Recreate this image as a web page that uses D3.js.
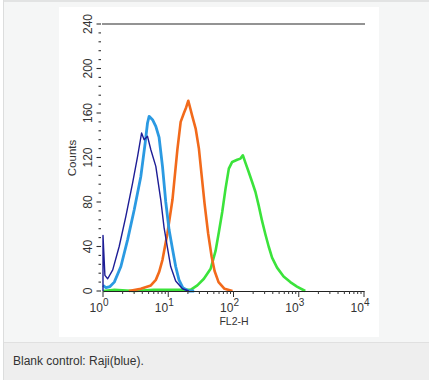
<!DOCTYPE html>
<html>
<head>
<meta charset="utf-8">
<script src="https://cdn.jsdelivr.net/npm/d3@7"></script>
<style>
  html, body { margin: 0; padding: 0; background: #f5f6f6; }
  svg { display: block; font-family: "Liberation Sans", Arial, sans-serif; }
</style>
</head>
<body>
<svg id="chart" width="429" height="380"></svg>
<script>
// ---- Data (FL2-H intensity, event counts) ----
const navyFL2    = [1.0, 1.0, 1.07, 1.18, 1.41, 1.77, 2.24, 2.84, 3.39, 3.90, 4.27, 4.81, 5.41, 6.45, 7.68, 8.63, 9.72, 10.9, 13.0, 16.5, 20.6];
const navyCounts = [0, 50, 14, 11, 19, 40, 67, 97, 121, 142, 136, 139, 127, 112, 82, 57, 39, 22, 9, 2, 0];

const blueFL2    = [1.0, 1.11, 1.28, 1.49, 1.88, 2.38, 3.01, 3.80, 4.43, 4.81, 5.09, 5.74, 6.45, 7.24, 8.16, 9.16, 10.3, 11.6, 13.0, 14.6, 16.7, 20.6, 25.0];
const blueCounts = [5, 3, 4, 8, 22, 46, 73, 103, 133, 151, 157, 154, 148, 138, 112, 80, 55, 38, 22, 10, 3, 0, 0];

const orangeFL2    = [2.49, 3.80, 5.41, 6.45, 7.24, 8.16, 9.72, 11.6, 13.8, 15.5, 17.4, 18.8, 20.3, 23.4, 26.3, 29.5, 32.5, 36.1, 40.8, 46.2, 51.3, 59.0, 72.9, 96.5];
const orangeCounts = [0, 2, 5, 10, 17, 28, 52, 82, 127, 152, 160, 165, 171, 157, 146, 128, 104, 78, 52, 31, 18, 8, 2, 0];

const greenFL2    = [1.0, 1.5, 3.0, 6.0, 12.0, 22.0, 27.9, 35.2, 44.6, 53.1, 59.7, 67.2, 75.5, 84.8, 95.5, 114, 128, 139, 153, 171, 193, 217, 243, 274, 308, 346, 390, 465, 586, 742, 939, 1257];
const greenCounts = [0, 1, 0, 1, 1, 1, 5, 11, 20, 36, 53, 71, 92, 110, 116, 118, 119, 122, 115, 107, 98, 89, 77, 63, 51, 40, 30, 21, 13, 8, 4, 0];

const xTickExponents = [0, 1, 2, 3, 4];
const yTickValues = [0, 40, 80, 120, 160, 200, 240];
const xLabel = "FL2-H";
const yLabel = "Counts";
const caption = "Blank control: Raji(blue).";

// ---- Layout ----
const svg = d3.select("#chart");

// page frame
svg.append("rect").attr("x", 0).attr("y", 0).attr("width", 429).attr("height", 380).attr("fill", "#f5f6f6");
svg.append("rect").attr("x", 0).attr("y", 0).attr("width", 429).attr("height", 2).attr("fill", "#e2e3e3");
svg.append("rect").attr("x", 0).attr("y", 0).attr("width", 3).attr("height", 380).attr("fill", "#ffffff");
svg.append("rect").attr("x", 3).attr("y", 0).attr("width", 1).attr("height", 380).attr("fill", "#dcdddd");
svg.append("rect").attr("x", 4).attr("y", 343).attr("width", 425).attr("height", 37).attr("fill", "#eeeeee");
svg.append("rect").attr("x", 4).attr("y", 342).attr("width", 425).attr("height", 1).attr("fill", "#e0e0e0");
svg.append("rect").attr("x", 59).attr("y", 7).attr("width", 320).attr("height", 330).attr("fill", "#ffffff");

svg.append("text").attr("x", 13).attr("y", 365)
  .attr("font-size", 12).attr("fill", "#333").text(caption);

const x = d3.scaleLog().domain([1, 1e4]).range([103, 364]);
const y = d3.scaleLinear().domain([0, 240]).range([291, 24]);

const g = svg.append("g");

// top frame line
g.append("line").attr("x1", x(1) - 1).attr("x2", x(1e4) + 1).attr("y1", y(240)).attr("y2", y(240))
  .attr("stroke", "#6f6f6f").attr("stroke-width", 1.7);

// y ticks (no spine)
const yMinor = d3.range(0, 241, 8);
g.selectAll(".ymin").data(yMinor).enter().append("line")
  .attr("x1", d => (d % 40 === 0 ? 96.5 : 98.5)).attr("x2", 101)
  .attr("y1", d => y(d)).attr("y2", d => y(d))
  .attr("stroke", "#333").attr("stroke-width", 1.1);

g.selectAll(".ylab").data(yTickValues).enter().append("text")
  .attr("transform", d => `translate(91.5,${y(d)}) rotate(-90)`)
  .attr("text-anchor", "middle").attr("font-size", 12).attr("fill", "#333")
  .text(d => d);

g.append("text").attr("transform", `translate(76,158) rotate(-90)`)
  .attr("text-anchor", "middle").attr("font-size", 11.5).attr("fill", "#333").text(yLabel);

// series
const line = d3.line().x(d => x(d[0])).y(d => y(d[1]));
const series = [
  { fl: greenFL2, c: greenCounts, color: "#3be33b", w: 2.6 },
  { fl: orangeFL2, c: orangeCounts, color: "#f26a1b", w: 2.6 },
  { fl: blueFL2, c: blueCounts, color: "#2b9ae2", w: 2.8 },
  { fl: navyFL2, c: navyCounts, color: "#1d1d96", w: 1.4 }
];
series.forEach(s => {
  g.append("path").datum(d3.zip(s.fl, s.c)).attr("d", line)
    .attr("fill", "none").attr("stroke", s.color).attr("stroke-width", s.w)
    .attr("stroke-linejoin", "round");
});

// x axis
const xAxis = d3.axisBottom(x).tickValues([]).tickSize(0);
const ax = g.append("g").attr("transform", `translate(0,${y(0)})`).call(xAxis);
ax.select(".domain").attr("stroke", "#222").attr("stroke-width", 1.2);

const minorX = [];
for (let e = 0; e < 4; e++) for (let m = 2; m <= 9; m++) minorX.push(m * Math.pow(10, e));
g.selectAll(".xmin").data(minorX).enter().append("line")
  .attr("x1", d => x(d)).attr("x2", d => x(d)).attr("y1", y(0)).attr("y2", y(0) + 3)
  .attr("stroke", "#333").attr("stroke-width", 1);
g.selectAll(".xmaj").data(xTickExponents).enter().append("line")
  .attr("x1", d => x(Math.pow(10, d))).attr("x2", d => x(Math.pow(10, d)))
  .attr("y1", y(0)).attr("y2", y(0) + 6)
  .attr("stroke", "#333").attr("stroke-width", 1);

const xl = g.selectAll(".xlab").data(xTickExponents).enter().append("text")
  .attr("x", d => x(Math.pow(10, d)) - 4).attr("y", 311.5)
  .attr("text-anchor", "middle").attr("font-size", 12).attr("fill", "#333");
xl.append("tspan").text("10");
xl.append("tspan").attr("dy", -6).attr("font-size", 10).text(d => d);

g.append("text").attr("x", 234).attr("y", 325).attr("text-anchor", "middle")
  .attr("font-size", 10.5).attr("fill", "#333").text(xLabel);
</script>
</body>
</html>
